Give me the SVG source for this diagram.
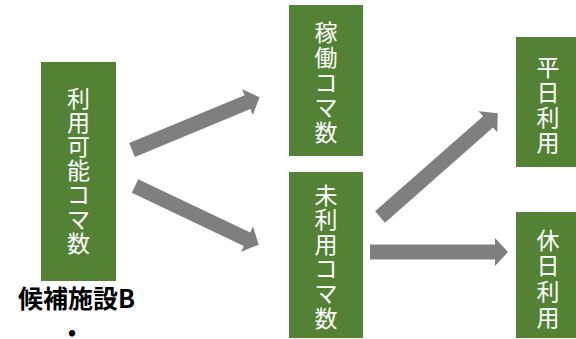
<svg xmlns="http://www.w3.org/2000/svg" width="576" height="339" viewBox="0 0 576 339">
<style>
.box{fill:#548235}
.lbl{fill:#ffffff;font-family:"Noto Sans CJK JP","Noto Sans",sans-serif;font-size:23px;text-anchor:middle}
.cap{fill:#000000;font-family:"Noto Sans CJK JP","Noto Sans",sans-serif;font-size:25px;font-weight:bold;text-anchor:middle}
.arr{fill:#7f7f7f}
</style>
<rect width="576" height="339" fill="#ffffff"/>
<g id="connectors">
<polygon class="arr" transform="translate(132,150) rotate(-22.5)" points="0,-7.5 125,-7.5 125,-14 138,0 125,14 125,7.5 0,7.5"/>
<polygon class="arr" transform="translate(135,186) rotate(25.4)" points="0,-7.5 124,-7.5 124,-14 137,0 124,14 124,7.5 0,7.5"/>
<polygon class="arr" transform="translate(380,217) rotate(-41.4)" points="0,-7.5 144,-7.5 144,-14 157,0 144,14 144,7.5 0,7.5"/>
<polygon class="arr" transform="translate(370,252)" points="0,-7.5 125,-7.5 125,-14 138,0 125,14 125,7.5 0,7.5"/>
</g>
<g id="node-available">
<rect class="box" x="41" y="62" width="75" height="219"/>
<text class="lbl"><tspan x="78.5" y="106.5">利</tspan><tspan x="78.5" y="130.7">用</tspan><tspan x="78.5" y="154.9">可</tspan><tspan x="78.5" y="179.1">能</tspan><tspan x="78.5" y="203.3">コ</tspan><tspan x="78.5" y="227.5">マ</tspan><tspan x="78.5" y="251.7">数</tspan></text>
</g>
<g id="caption">
<text class="cap" x="76.5" y="308">候補施設B</text>
<text class="cap" x="72" y="343">・</text>
</g>
<g id="node-operating">
<rect class="box" x="289" y="5" width="74" height="151"/>
<text class="lbl"><tspan x="326" y="40.5">稼</tspan><tspan x="326" y="65.5">働</tspan><tspan x="326" y="90.5">コ</tspan><tspan x="326" y="115.5">マ</tspan><tspan x="326" y="140.5">数</tspan></text>
</g>
<g id="node-unused">
<rect class="box" x="289" y="172" width="74" height="166"/>
<text class="lbl"><tspan x="326" y="203.5">未</tspan><tspan x="326" y="228.1">利</tspan><tspan x="326" y="252.7">用</tspan><tspan x="326" y="277.3">コ</tspan><tspan x="326" y="301.9">マ</tspan><tspan x="326" y="326.5">数</tspan></text>
</g>
<g id="node-weekday">
<rect class="box" x="516" y="37" width="60" height="130"/>
<text class="lbl"><tspan x="548" y="75.5">平</tspan><tspan x="548" y="100.5">日</tspan><tspan x="548" y="125.5">利</tspan><tspan x="548" y="150.5">用</tspan></text>
</g>
<g id="node-holiday">
<rect class="box" x="516" y="212" width="60" height="126"/>
<text class="lbl"><tspan x="548" y="248.5">休</tspan><tspan x="548" y="274.2">日</tspan><tspan x="548" y="299.9">利</tspan><tspan x="548" y="325.6">用</tspan></text>
</g>
</svg>
